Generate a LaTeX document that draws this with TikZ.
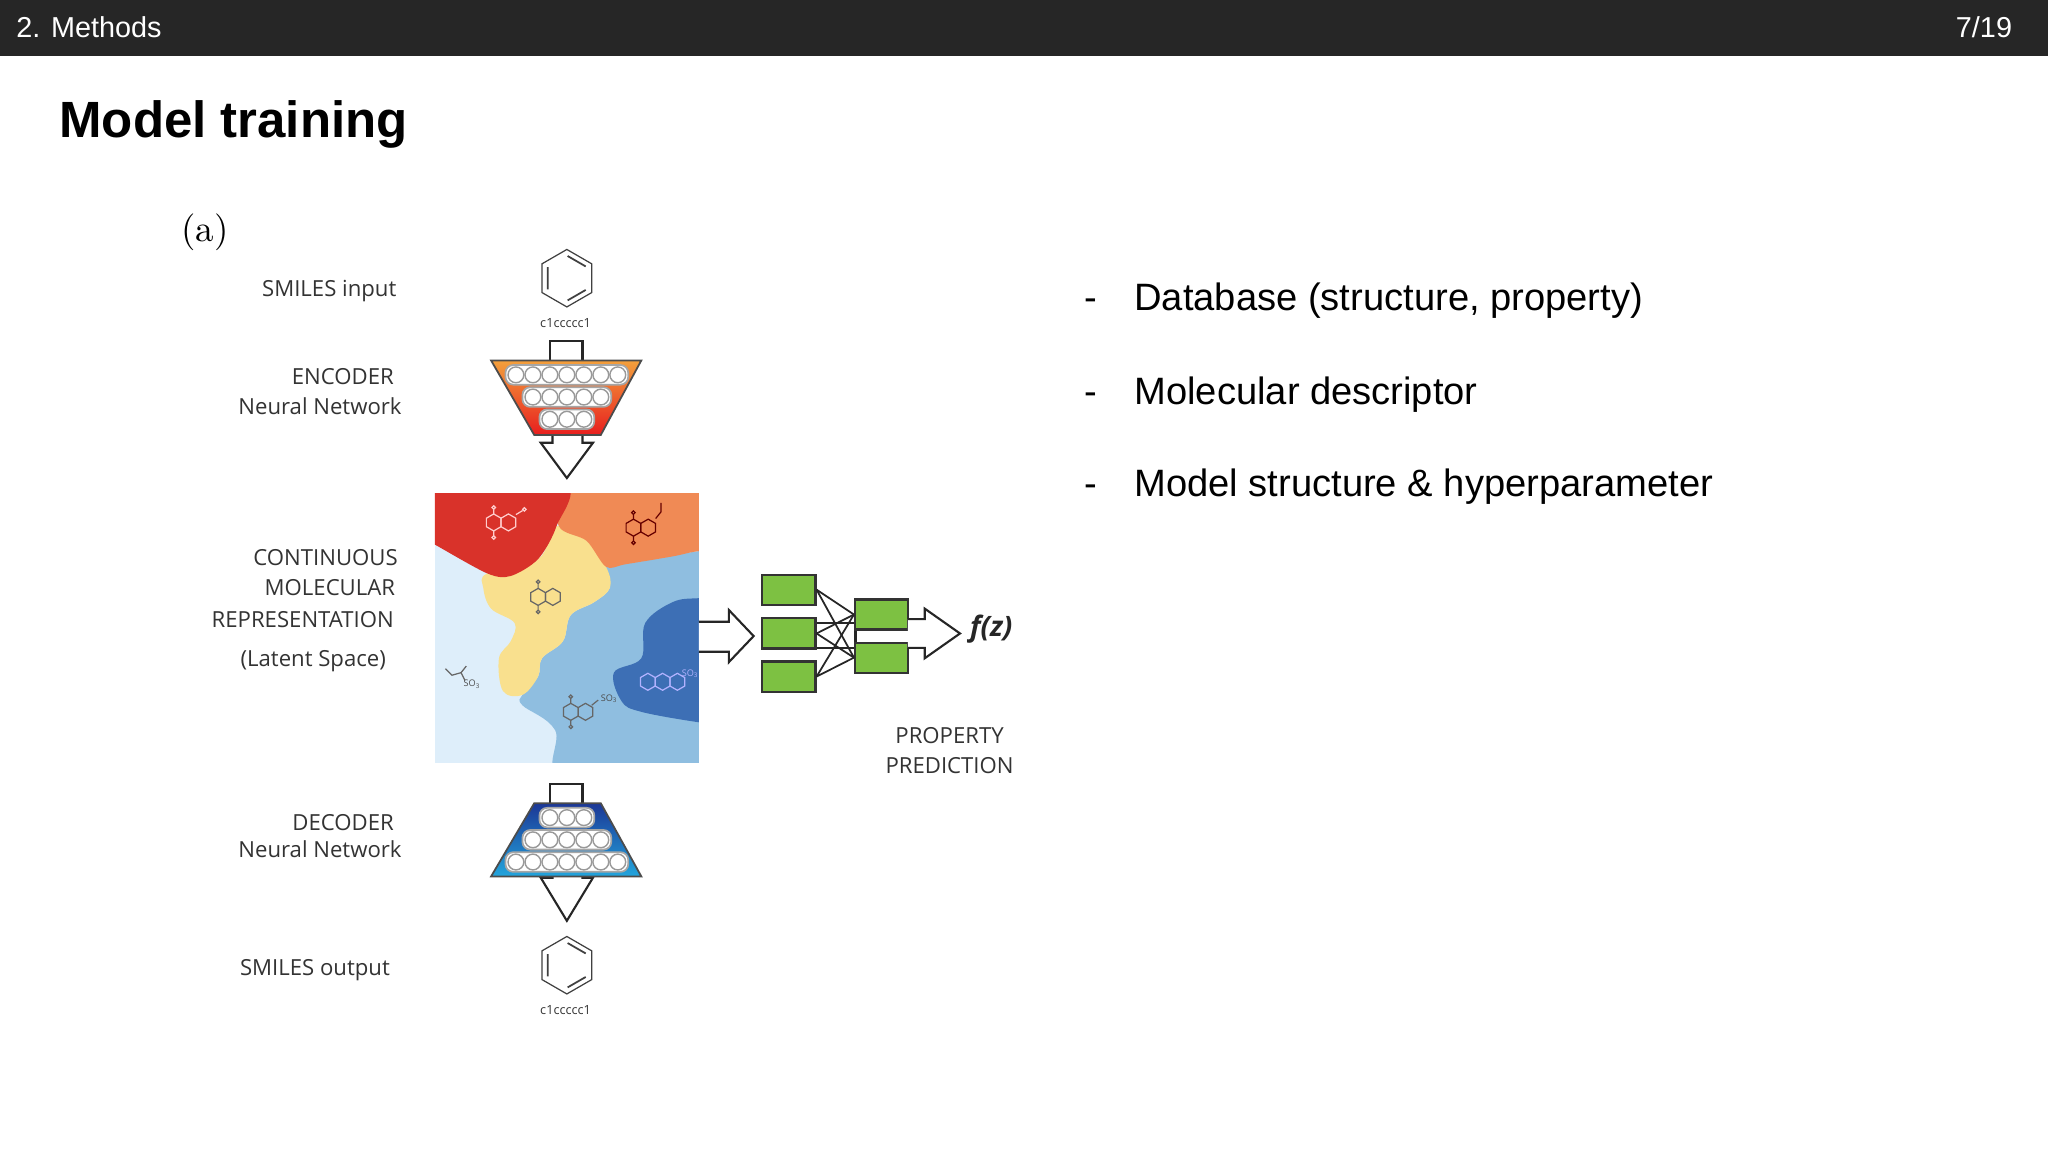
\documentclass[tikz,border=0pt]{standalone}
\usepackage{fontspec}
\setmainfont{Liberation Sans}
\newfontfamily\osans{Open Sans}
\usetikzlibrary{calc}
\definecolor{hdr}{HTML}{262626}
\definecolor{gbox}{HTML}{7DC142}
\definecolor{lbl}{HTML}{333333}
\newcommand\nnrow[3]{%
  \pgfmathsetmacro\half{(#3)*6.5}
  \draw[draw=gray!70,fill=white,rounded corners=2.2pt,line width=0.5pt] ({#1-\half-1.5},{#2-7.5}) rectangle ({#1+\half+1.5},{#2+7.5});
  \foreach \i in {1,...,#3}{\draw[draw=gray!80,fill=white,line width=0.4pt] ({#1-\half+13*\i-6.5},#2) circle (2.25pt);}}
\newcommand\hexa[4]{% x y r color
  \draw[draw=#4,line width=0.35pt] (#1,#2) +(30:#3)--+(90:#3)--+(150:#3)--+(210:#3)--+(270:#3)--+(330:#3)--cycle;}
\newcommand\naph[3]{%
  \begin{scope}[shift={(#1,#2)}]
  \hexa{0}{0}{6.5}{#3}\hexa{11.26}{0}{6.5}{#3}
  \draw[draw=#3,line width=0.35pt] (0,6.5)--(0,10) (0,-6.5)--(0,-10) (0,11.5) circle (0.5pt) (0,-11.5) circle (0.5pt);
  \end{scope}}
\newcommand\benz[2]{%
  \hexa{#1}{#2}{22}{black!75}
  \draw[black!75,line width=0.5pt] ($(#1,#2)+(150:17)$)--($(#1,#2)+(210:17)$)
     ($(#1,#2)+(32:17)$)--($(#1,#2)+(88:17)$) ($(#1,#2)+(272:17)$)--($(#1,#2)+(328:17)$);}
\newcommand\sothree{SO\raisebox{-0.4pt}{\fontsize{1.8}{2}\selectfont 3}}
\tikzset{lab/.style={font=\osans\fontsize{6.3}{7}\selectfont,text=lbl,anchor=east,inner sep=0},
  bul/.style={font=\fontsize{10.85}{12}\selectfont,anchor=base west,inner sep=0},
  tiny/.style={font=\osans\fontsize{2.6}{3}\selectfont,inner sep=0},
  gb/.style={fill=gbox,draw=black!80,line width=0.6pt,minimum width=40.8*0.3716pt,minimum height=23*0.3716pt,inner sep=0},
  wa/.style={fill=white,draw=black!85,line width=0.6pt,line join=miter}}
\begin{document}
\begin{tikzpicture}[x=0.3716pt,y=-0.3716pt]
\useasboundingbox (0,0) rectangle (1568,882);
\fill[white] (0,0) rectangle (1568,882);
\fill[hdr] (0,0) rectangle (1568,43);
\node[anchor=west,text=white,font=\fontsize{8.2}{9}\selectfont,inner sep=0] (hl) at (12,21) {2. Methods};
\node[anchor=east,text=white,font=\fontsize{8.2}{9}\selectfont,inner sep=0] (hr) at (1541,21) {7/19};
\node[anchor=west,font=\bfseries\fontsize{14.5}{16}\selectfont,inner sep=0] (title) at (45,95) {Model training};
% bullets
\foreach \yy/\tt [count=\k] in {238/{Database (structure, property)},310/{Molecular descriptor},380/{Model structure \& hyperparameter}}{
  \node[bul] (d\k) at (830,\yy) {-};
  \node[bul] (b\k) at (868,\yy) {\tt};}
% (a)
\node[font=\fontfamily{lmr}\fontsize{10.5}{12}\selectfont,inner sep=0] (a) at (157,178) {(a)};
% labels
\node[lab] (l1) at (304,223) {SMILES input};
\node[lab] (l2) at (302,288) {ENCODER};
\node[lab] (l3) at (308,311) {Neural Network};
\node[lab] (l4) at (305,427) {CONTINUOUS};
\node[lab] (l5) at (303,450) {MOLECULAR};
\node[lab] (l6) at (302,474) {REPRESENTATION};
\node[lab] (l7) at (296,506) {(Latent Space)};
\node[lab] (l8) at (302,630) {DECODER};
\node[lab] (l9) at (308,650) {Neural Network};
\node[lab] (l10) at (299,743) {SMILES output};
% input benzene
\benz{434}{213}
\node[font=\osans\fontsize{3.6}{4}\selectfont,text=lbl,inner sep=0] (c1) at (433,247) {c1ccccc1};
% encoder
\draw[wa] (421,261) rectangle (446,277);
\draw[wa] (423,330) -- (423,339) -- (414,339) -- (434,366) -- (454,339) -- (446,339) -- (446,330);
\shade[top color={rgb,255:red,243;green,160;blue,60},bottom color={rgb,255:red,232;green,30;blue,30},draw=black!70,line width=0.5pt] (376,276) -- (491,276) -- (460,333) -- (409,333) -- cycle;
\nnrow{434}{287}{7}
\nnrow{434}{304}{5}
\nnrow{434}{321}{3}
% latent space
\begin{scope}
\clip (333,378) rectangle (535,584);
\fill[fill={rgb,255:red,222;green,238;blue,250}] (333,378) rectangle (535,584);
\fill[fill={rgb,255:red,143;green,190;blue,224}] plot[smooth cycle,tension=0.6] coordinates {(464,434) (535,422) (560,420) (560,600) (434,600) (425,559) (400,540) (400,532) (412,518) (415,504) (431,491) (437,471) (455,461) (467,450)};
\fill[fill={rgb,255:red,61;green,111;blue,181}] plot[smooth cycle,tension=0.6] coordinates {(560,458) (535,458) (515,461) (494,477) (491,504) (470,515) (476,537) (491,545) (535,553) (560,555)};
\fill[fill={rgb,255:red,249;green,224;blue,142}] plot[smooth cycle,tension=0.6] coordinates {(373,439) (412,428) (426,403) (449,414) (464,434) (467,450) (455,461) (437,471) (431,491) (415,504) (412,518) (400,532) (385,529) (382,504) (391,491) (394,477) (376,466) (370,450)};
\fill[fill={rgb,255:red,240;green,138;blue,85}] plot[smooth cycle,tension=0.5] coordinates {(430,370) (560,370) (560,422) (535,422) (515,426) (479,432) (464,434) (449,414) (428,403)};
\fill[fill={rgb,255:red,217;green,50;blue,42}] plot[smooth cycle,tension=0.5] coordinates {(320,370) (431,370) (426,403) (412,428) (391,441) (373,439) (333,417) (320,410)};
\end{scope}
\naph{378}{400}{white!80!red}
\draw[white!80!red,line width=0.35pt] (395,394)--(400,391) (401.5,390) circle (0.5pt);
\naph{485}{404}{black!60!red}
\draw[black!60!red,line width=0.35pt] (502,397)--(506,392)--(506,385);
\naph{412}{457}{black!60}
\naph{437}{545}{black!60}
\draw[black!60,line width=0.35pt] (453,540)--(458,536);
\node[tiny,text=black!70] (so1) at (466,535) {\sothree};
\hexa{496}{522}{6.5}{white!70!blue}\hexa{507.3}{522}{6.5}{white!70!blue}\hexa{518.6}{522}{6.5}{white!70!blue}
\node[tiny,text=white!70!blue] (so2) at (528,516) {\sothree};
\draw[black!60,line width=0.35pt] (341,512)--(346,517)--(353,515)--(357,510) (353,515)--(356,521);
\node[tiny,text=black!70] (so3) at (361,524) {\sothree};
% arrow to predictor
\draw[wa] (535,476) -- (558,476) -- (558,467) -- (577,487) -- (558,507) -- (558,499) -- (535,499);
% predictor
\draw[black!85,line width=0.6pt] (624,477) rectangle (655,496);
\node[gb] (g1) at (604,451.5) {};
\node[gb] (g2) at (604,485) {};
\node[gb] (g3) at (604,518) {};
\node[gb] (h1) at (675,470.5) {};
\node[gb] (h2) at (675,503.5) {};
\foreach \g in {g1,g2,g3}{\foreach \h in {h1,h2}{\draw[black!85,line width=0.5pt] (\g.east) -- (\h.west);}}
\draw[wa] (695,474) -- (708,474) -- (708,466) -- (735,485) -- (708,504) -- (708,496) -- (695,496);
\node[font=\osans\bfseries\itshape\fontsize{8}{9}\selectfont,text=black!85,inner sep=0] (fz) at (759,482) {f(z)};
\node[font=\osans\fontsize{6.3}{7}\selectfont,text=lbl,inner sep=0,align=center] (pp) at (727,575) {PROPERTY\\[1.5pt]PREDICTION};
% decoder
\draw[wa] (421,600) rectangle (446,616);
\draw[wa] (423,665) -- (423,672) -- (414,672) -- (434,705) -- (454,672) -- (446,672) -- (446,665);
\shade[top color={rgb,255:red,28;green,55;blue,150},bottom color={rgb,255:red,34;green,165;blue,220},draw=black!70,line width=0.5pt] (409,615) -- (460,615) -- (491,671) -- (376,671) -- cycle;
\nnrow{434}{626}{3}
\nnrow{434}{643}{5}
\nnrow{434}{660}{7}
% output benzene
\benz{434}{739}
\node[font=\osans\fontsize{3.6}{4}\selectfont,text=lbl,inner sep=0] (c2) at (433,773) {c1ccccc1};
\end{tikzpicture}
\end{document}
